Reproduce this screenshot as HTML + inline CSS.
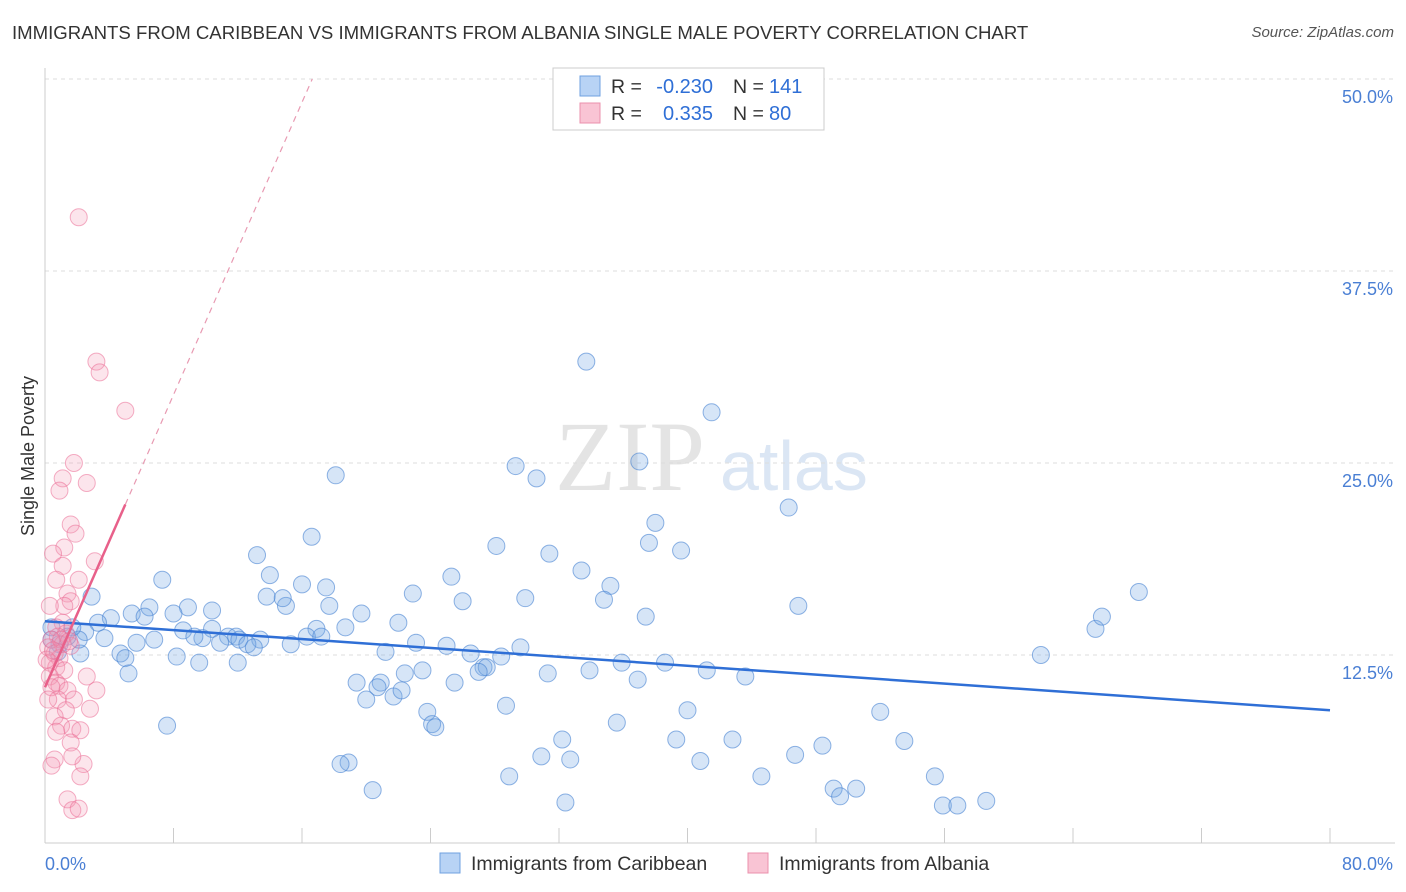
<!DOCTYPE html>
<html><head><meta charset="utf-8"><style>
body{margin:0;background:#fff;font-family:"Liberation Sans",sans-serif;}
#wrap{position:relative;width:1406px;height:892px;overflow:hidden;}
.t{position:absolute;white-space:nowrap;}
</style></head><body>
<div id="wrap">
<div class="t" style="left:12px;top:22px;font-size:18.6px;color:#333;">IMMIGRANTS FROM CARIBBEAN VS IMMIGRANTS FROM ALBANIA SINGLE MALE POVERTY CORRELATION CHART</div>
<div class="t" style="right:12px;top:24px;font-size:15px;color:#555;font-style:italic;">Source: ZipAtlas.com</div>
<svg id="svg" width="1406" height="892" style="position:absolute;left:0;top:0"></svg>
</div>
<script>
const xTicks=[0,80];
const yTicks=[12.5,25,37.5,50];
const blueX=[18.1,33.7,41.5,29.3,30.6,37.0,46.3,38.0,37.6,39.6,28.1,31.4,33.4,35.2,34.8,25.3,26.0,22.9,29.9,16.6,13.2,14.0,16.0,17.5,13.8,15.0,17.7,14.8,7.3,2.9,6.5,8.9,10.4,8.0,5.4,6.2,4.1,3.3,19.7,22.0,16.9,18.7,16.3,17.2,10.4,8.6,9.8,11.4,11.9,12.1,13.4,10.9,12.6,13.0,9.3,6.8,5.7,4.7,3.7,2.5,2.2,2.1,1.7,1.4,0.9,0.8,0.4,0.4,15.3,21.2,23.1,25.0,26.5,27.3,27.5,27.0,28.4,29.6,31.3,33.9,35.9,38.6,41.2,43.6,36.9,5.0,5.2,8.2,9.6,12.0,22.4,23.5,19.4,20.9,20.7,20.0,21.7,22.2,25.5,23.8,24.1,24.3,28.7,35.6,40.0,52.0,53.5,42.8,39.3,32.2,30.9,32.7,46.7,48.4,40.8,44.6,55.4,28.9,18.9,18.4,20.4,49.1,49.5,50.5,32.4,55.9,56.8,58.6,62.0,65.4,65.8,68.1,46.9,37.4,7.6];
const blueY=[24.2,31.6,28.3,24.8,24.0,25.1,22.1,21.1,19.8,19.3,19.6,19.1,18.0,17.0,16.1,17.6,16.0,16.5,16.2,20.2,19.0,17.7,17.1,16.9,16.3,15.7,15.7,16.2,17.4,16.3,15.6,15.6,15.4,15.2,15.2,15.0,14.9,14.6,15.2,14.6,14.2,14.3,13.7,13.7,14.2,14.1,13.6,13.7,13.7,13.5,13.5,13.3,13.2,13.0,13.7,13.5,13.3,12.6,13.6,14.0,12.6,13.5,14.3,13.7,13.2,12.7,13.5,14.3,13.2,12.7,13.3,13.1,12.6,11.7,11.7,11.4,12.4,13.0,11.3,11.5,12.0,12.0,11.5,11.1,10.9,12.3,11.3,12.4,12.0,12.0,11.3,11.5,10.7,10.7,10.4,9.6,9.8,10.2,10.7,8.8,8.0,7.8,9.2,8.1,8.9,8.8,6.9,7.0,7.0,7.0,5.9,5.7,6.0,6.6,5.6,4.6,4.6,4.6,5.5,5.4,3.7,3.8,3.3,3.8,2.9,2.7,2.7,3.0,12.5,14.2,15.0,16.6,15.7,15.0,7.9];
const pinkX=[2.1,3.2,3.4,5.0,1.8,1.1,0.9,2.6,1.6,1.9,1.2,0.5,3.1,1.1,2.1,0.7,1.4,1.6,1.2,0.3,1.1,0.7,1.3,0.8,0.4,1.1,1.6,0.2,0.6,0.9,0.3,0.7,1.2,0.3,0.7,0.9,0.4,2.6,1.4,1.8,3.2,0.8,2.8,1.3,0.6,1.0,0.7,1.7,2.2,1.6,0.6,0.4,2.4,1.7,2.2,1.4,1.7,2.1,0.2,0.1,1.0,0.5,1.5];
const pinkY=[41.0,31.6,30.9,28.4,25.0,24.0,23.2,23.7,21.0,20.4,19.5,19.1,18.6,18.3,17.4,17.4,16.5,16.0,15.7,15.7,14.6,14.3,13.9,13.7,13.5,13.2,13.1,13.0,12.6,12.3,12.0,11.7,11.5,11.1,10.7,10.5,10.4,11.1,10.2,9.6,10.2,9.6,9.0,8.9,8.5,7.9,7.5,7.7,7.6,6.8,5.7,5.3,5.4,5.9,4.6,3.1,2.4,2.5,9.6,12.2,13.5,12.8,13.4];
const blueTrend=[14.7,8.9];
const pinkTrend=[10.4,2.38];
const X0=45,X1=1330,Y0=847,PY=15.36;
const sx=v=>X0+(v/80)*(X1-X0), sy=v=>Y0-v*PY;
const svg=document.getElementById('svg'),NS='http://www.w3.org/2000/svg';
function mk(t,a){const e=document.createElementNS(NS,t);for(const k in a)e.setAttribute(k,a[k]);svg.appendChild(e);return e;}
let w=mk('text',{x:555,y:490,'font-size':100,fill:'#e4e4e4','font-family':'Liberation Serif, serif'});w.textContent='ZIP';


let w2=mk('text',{x:720,y:490,'font-size':70,fill:'#dbe6f4','font-family':'Liberation Sans, sans-serif'});w2.textContent='atlas';


yTicks.forEach(v=>{
 let g=mk('line',{x1:X0,x2:1395,y1:sy(v),y2:sy(v),stroke:'#ddd','stroke-dasharray':'4,4'});
 
 
 let t=mk('text',{x:1393,y:sy(v)+24,'text-anchor':'end','font-size':18,fill:'#4a7fd4'});t.textContent=v.toFixed(1)+'%';
 
 
});
let ax=mk('line',{x1:X0,x2:1395,y1:843,y2:843,stroke:'#ccc'});


let ay=mk('line',{x1:X0,x2:X0,y1:68,y2:843,stroke:'#ccc'});


for(let i=0;i<=10;i++){let tk=mk('line',{x1:sx(i*8),x2:sx(i*8),y1:828,y2:843,stroke:'#ccc'});
 
 }
xTicks.forEach((v,i)=>{let t=mk('text',{x:i?1393:45,y:870,'text-anchor':i?'end':'start','font-size':18,fill:'#4a7fd4'});t.textContent=v.toFixed(1)+'%';
 
 });
let yt=mk('text',{x:34,y:456,'font-size':18,fill:'#333','text-anchor':'middle',transform:'rotate(-90 34 456)'});yt.textContent='Single Male Poverty';


blueX.forEach((v,i)=>{let c=mk('circle',{cx:sx(v),cy:sy(blueY[i]),r:8.5,fill:'rgba(120,170,230,0.3)',stroke:'rgba(70,130,210,0.6)','stroke-width':1});
 
 });
pinkX.forEach((v,i)=>{let c=mk('circle',{cx:sx(v),cy:sy(pinkY[i]),r:8.5,fill:'rgba(245,150,180,0.25)',stroke:'rgba(235,110,150,0.55)','stroke-width':1});
 
 });
let bl=mk('line',{x1:sx(0),y1:sy(blueTrend[0]),x2:sx(80),y2:sy(blueTrend[1]),stroke:'#2f6fd6','stroke-width':2.5});


const pxEnd=(50-pinkTrend[0])/pinkTrend[1];
let pd=mk('line',{x1:sx(5),y1:sy(pinkTrend[0]+5*pinkTrend[1]),x2:sx(pxEnd),y2:sy(50),stroke:'#e89ab2','stroke-width':1.2,'stroke-dasharray':'6,5'});


let pl=mk('line',{x1:sx(0),y1:sy(pinkTrend[0]),x2:sx(5),y2:sy(pinkTrend[0]+5*pinkTrend[1]),stroke:'#e8608a','stroke-width':2.5});


let lb=mk('rect',{x:553,y:68,width:271,height:62,fill:'#fff',stroke:'#ccc'});


[['#b8d3f5','#6fa0e0','-0.230','141',86],['#f9c4d4','#eb90ad','0.335','80',113]].forEach(r=>{
 let s=mk('rect',{x:580,y:r[4]-10,width:20,height:20,fill:r[0],stroke:r[1]});
 
 
 let a=mk('text',{x:611,y:r[4]+7,'font-size':19.5,fill:'#333'});a.textContent='R =';
 
 
 let b=mk('text',{x:713,y:r[4]+7,'font-size':20,fill:'#2f6fd6','text-anchor':'end'});b.textContent=r[2];
 
 
 let c=mk('text',{x:733,y:r[4]+7,'font-size':19.5,fill:'#333'});c.textContent='N =';
 
 
 let d=mk('text',{x:769,y:r[4]+7,'font-size':20,fill:'#2f6fd6'});d.textContent=r[3];
 
 
});
[['#b8d3f5','#6fa0e0','Immigrants from Caribbean',440],['#f9c4d4','#eb90ad','Immigrants from Albania',748]].forEach(r=>{
 let s=mk('rect',{x:r[3],y:853,width:20,height:20,fill:r[0],stroke:r[1]});
 
 
 let t=mk('text',{x:r[3]+31,y:870,'font-size':19.5,fill:'#333'});t.textContent=r[2];
 
 
});
</script>
</body></html>
